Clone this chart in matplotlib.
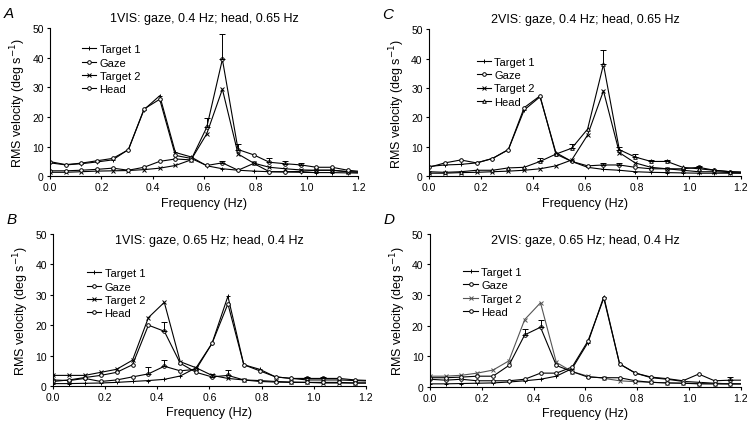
import matplotlib
matplotlib.use("Agg")
import matplotlib.pyplot as plt
import numpy as np

plt.rcParams['font.family'] = ['Liberation Sans', 'DejaVu Sans']

freq = [0.0, 0.061, 0.122, 0.183, 0.244, 0.305, 0.366, 0.427, 0.488, 0.549,
        0.610, 0.671, 0.732, 0.793, 0.854, 0.915, 0.976, 1.037, 1.098, 1.159, 1.220]

# Panel A: 1VIS gaze 0.4 Hz, head 0.65 Hz
A_target1 = [4.5, 3.8, 4.2, 4.8, 5.5, 9.0, 22.5, 27.2, 8.0, 6.5, 3.5, 2.5, 2.0, 1.7, 1.5, 1.4, 1.3, 1.2, 1.2, 1.1, 1.0]
A_gaze    = [4.9, 3.9, 4.4, 5.2, 6.0, 8.9, 22.7, 26.0, 7.0, 6.0, 3.6, 4.5, 2.0, 4.3, 1.5, 1.5, 1.6, 2.0, 2.0, 1.5, 1.3]
A_target2 = [1.3, 1.3, 1.5, 1.7, 1.8, 1.9, 2.2, 2.7, 3.6, 5.5, 14.3, 29.4, 7.5, 4.4, 3.0, 2.5, 2.1, 2.0, 2.0, 1.5, 1.3]
A_head    = [1.8, 1.8, 2.0, 2.3, 2.7, 2.0, 3.0, 5.0, 5.8, 5.5, 16.5, 39.5, 9.0, 7.2, 4.7, 4.2, 3.8, 3.0, 3.0, 2.0, 1.5]
A_head_err = [0, 0, 0, 0, 0, 0, 0, 0, 0, 0, 3.0, 8.7, 2.0, 0, 1.3, 0.8, 0.7, 0, 0, 0, 0]
A_gaze_err = [0, 0, 0, 0, 0, 0, 0, 0, 0, 0, 0, 0.7, 0, 0, 0, 0, 0, 0, 0, 0, 0]

# Panel B: 1VIS gaze 0.65 Hz, head 0.4 Hz
B_target1 = [0.8, 0.8, 0.9, 1.0, 1.2, 1.5, 1.8, 2.2, 3.3, 6.0, 14.0, 29.5, 7.0, 5.5, 3.0, 2.5, 2.0, 2.0, 2.0, 1.8, 1.6]
B_gaze    = [2.0, 1.8, 2.5, 1.5, 2.0, 3.0, 4.0, 6.5, 5.0, 5.5, 14.0, 27.0, 7.0, 5.0, 3.0, 2.5, 2.5, 2.5, 2.5, 2.0, 1.8]
B_target2 = [3.5, 3.5, 3.5, 4.5, 5.5, 8.5, 22.5, 27.5, 8.0, 6.0, 3.5, 2.5, 2.0, 1.8, 1.5, 1.3, 1.2, 1.0, 1.0, 1.0, 1.0]
B_head    = [1.5, 2.0, 2.8, 3.5, 4.5, 7.0, 20.0, 18.0, 7.5, 4.5, 3.0, 3.5, 2.0, 1.5, 1.3, 1.2, 1.2, 1.2, 1.2, 1.0, 1.0]
B_head_err = [0, 0, 0, 0, 0, 0, 0, 3.2, 0, 0, 1.0, 1.8, 0, 0, 0, 0, 0, 0, 0, 0, 0]
B_gaze_err = [0, 0, 0, 0, 0, 0, 2.3, 2.2, 0, 0, 0, 0, 0, 0, 0, 0, 0.5, 0.5, 0, 0, 0]

# Panel C: 2VIS gaze 0.4 Hz, head 0.65 Hz
C_target1 = [3.3, 3.8, 4.0, 4.5, 6.0, 9.0, 22.5, 27.0, 8.0, 5.0, 3.0, 2.3, 2.0, 1.5, 1.3, 1.2, 1.1, 1.0, 1.0, 1.0, 1.0]
C_gaze    = [3.0, 4.5, 5.5, 4.5, 6.0, 9.0, 23.3, 27.3, 7.5, 5.0, 3.5, 3.8, 3.8, 3.0, 2.5, 2.5, 2.5, 3.0, 2.0, 1.5, 1.3]
C_target2 = [1.0, 1.0, 1.2, 1.3, 1.5, 1.7, 2.0, 2.5, 3.5, 5.5, 14.0, 29.0, 8.0, 4.5, 3.0, 2.5, 2.0, 1.5, 1.5, 1.2, 1.0]
C_head    = [1.5, 1.3, 1.5, 2.0, 2.0, 2.8, 3.0, 5.0, 7.5, 9.5, 16.0, 38.0, 9.0, 6.5, 5.0, 5.0, 3.0, 2.5, 2.0, 1.5, 1.3]
C_head_err = [0, 0, 0, 0, 0, 0, 0, 1.2, 0, 1.5, 0, 5.0, 0.8, 1.0, 0.6, 0.6, 0, 0, 0, 0, 0]
C_gaze_err = [0, 0, 0, 0, 0, 0, 0, 0, 0, 0, 0, 0.6, 0.6, 0, 0, 0, 0, 0.5, 0, 0, 0]

# Panel D: 2VIS gaze 0.65 Hz, head 0.4 Hz
D_target1 = [1.0, 1.0, 1.1, 1.2, 1.3, 1.6, 2.0, 2.5, 3.5, 6.0, 14.5, 29.5, 7.5, 4.5, 3.0, 2.5, 1.8, 1.5, 1.2, 1.0, 1.0]
D_gaze    = [2.5, 2.2, 2.5, 2.0, 2.0, 2.0, 2.5, 4.5, 4.5, 6.5, 15.0, 29.0, 7.5, 4.5, 3.2, 2.7, 2.0, 4.2, 2.0, 2.2, 2.2]
D_target2 = [3.5, 3.5, 3.8, 4.5, 5.5, 8.5, 22.0, 27.5, 8.0, 5.0, 3.5, 2.8, 2.0, 1.7, 1.5, 1.3, 1.2, 1.1, 1.0, 1.0, 1.0]
D_head    = [3.0, 3.0, 3.2, 3.5, 3.5, 7.0, 17.0, 19.5, 7.0, 5.0, 3.2, 3.0, 3.0, 2.0, 1.5, 1.3, 1.2, 1.0, 1.0, 1.0, 1.0]
D_head_err = [0, 0, 0, 0, 0, 0, 2.0, 2.5, 0, 0, 0, 0, 0, 0, 0, 0, 0, 0, 0, 0, 0]
D_gaze_err = [0, 0, 0, 0, 0, 0, 0, 0, 0, 0, 0, 0, 0, 0, 0, 0, 0, 0, 0, 1.0, 0]

series_names = ["Target 1", "Gaze", "Target 2", "Head"]
xticks = [0.0, 0.2, 0.4, 0.6, 0.8, 1.0, 1.2]
yticks = [0, 10, 20, 30, 40, 50]

panels = [
    dict(letter="A", title="1VIS: gaze, 0.4 Hz; head, 0.65 Hz",
         data=[A_target1, A_gaze, A_target2, A_head], gerr=A_gaze_err, herr=A_head_err,
         pos=[0.0667, 0.589, 0.411, 0.343], head_marker='o', t2color='black', title_in=False,
         leg=(0.085, 0.93)),
    dict(letter="C", title="2VIS: gaze, 0.4 Hz; head, 0.65 Hz",
         data=[C_target1, C_gaze, C_target2, C_head], gerr=C_gaze_err, herr=C_head_err,
         pos=[0.572, 0.589, 0.416, 0.341], head_marker='^', t2color='black', title_in=False,
         leg=(0.135, 0.85)),
    dict(letter="B", title="1VIS: gaze, 0.65 Hz; head, 0.4 Hz",
         data=[B_target1, B_gaze, B_target2, B_head], gerr=B_gaze_err, herr=B_head_err,
         pos=[0.0707, 0.102, 0.417, 0.353], head_marker='o', t2color='black', title_in=True,
         leg=(0.09, 0.81)),
    dict(letter="D", title="2VIS: gaze, 0.65 Hz; head, 0.4 Hz",
         data=[D_target1, D_gaze, D_target2, D_head], gerr=D_gaze_err, herr=D_head_err,
         pos=[0.573, 0.100, 0.415, 0.355], head_marker='o', t2color='#555555', title_in=True,
         leg=(0.09, 0.82)),
]

fig = plt.figure(figsize=(7.5, 4.31), dpi=100)

for p in panels:
    ax = fig.add_axes(p["pos"])
    t1, gz, t2, hd = p["data"]
    markers = ['+', 'o', 'x', p["head_marker"]]
    colors = ['black', 'black', p["t2color"], 'black']
    handles = []
    for vals, name, mk, col in zip([t1, gz, t2, hd], series_names, markers, colors):
        mfc = 'white' if mk in ('o', '^') else col
        ln, = ax.plot(freq, vals, color=col, lw=0.8, marker=mk, ms=2.6 if mk in ('o', '^') else 3.0,
                      mfc=mfc, mec=col, mew=0.7, label=name, clip_on=True)
        handles.append(ln)
    for vals, err in ((gz, p["gerr"]), (hd, p["herr"])):
        e = np.array(err, dtype=float)
        m = e > 0
        ax.errorbar(np.array(freq)[m], np.array(vals)[m], yerr=[np.zeros(m.sum()), e[m]],
                    fmt='none', ecolor='black', elinewidth=0.7, capsize=2.0, capthick=0.7)
    ax.set_xlim(0, 1.2)
    ax.set_ylim(0, 50)
    ax.set_xticks(xticks)
    ax.set_xticklabels([f"{v:.1f}" for v in xticks])
    ax.set_yticks(yticks)
    ax.tick_params(labelsize=7.5, length=2.5, width=0.8, pad=2, direction='out')
    for s in ('top', 'right'):
        ax.spines[s].set_visible(False)
    for s in ('left', 'bottom'):
        ax.spines[s].set_linewidth(0.8)
    ax.set_xlabel("Frequency (Hz)", fontsize=9, labelpad=3)
    ax.set_ylabel("RMS velocity (deg s$^{-1}$)", fontsize=9, labelpad=3)
    if p["title_in"]:
        ax.text(0.5, 0.96, p["title"], transform=ax.transAxes, ha='center', va='center', fontsize=9)
    else:
        ax.set_title(p["title"], fontsize=9, pad=5)
    ax.legend(handles=handles, loc='upper left', bbox_to_anchor=p["leg"], frameon=False,
              fontsize=8, handlelength=1.3, handletextpad=0.3, labelspacing=0.3, borderpad=0)
    bb = ax.get_position()
    fig.text(bb.x0 - 0.062, bb.y1 + 0.035, p["letter"], fontsize=11, style='italic',
             ha='left', va='center')

fig.savefig("out.png", dpi=100)
